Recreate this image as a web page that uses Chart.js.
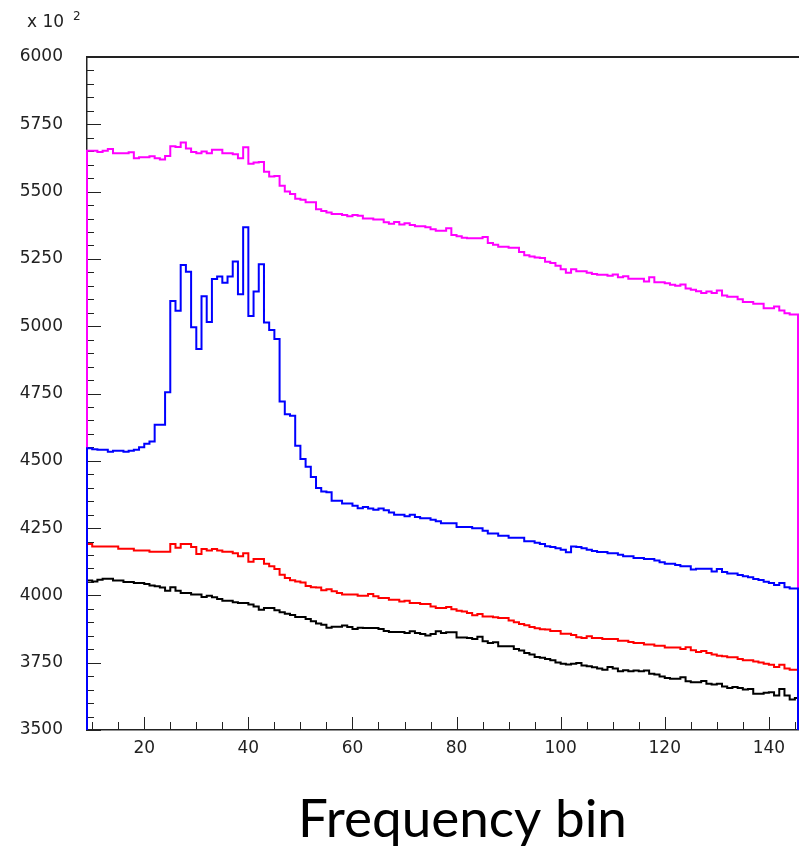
<!DOCTYPE html>
<html>
<head>
<meta charset="utf-8">
<script src="https://cdn.jsdelivr.net/npm/chart.js@4.4.1/dist/chart.umd.min.js"></script>
<style>
  html, body { margin: 0; padding: 0; background: #fff; overflow: hidden; }
  canvas { display: block; }
</style>
</head>
<body>
<canvas id="c" width="799" height="849"></canvas>
<script>
// ---------- data (one value per frequency bin, bins start at X_START, width 1) ----------
const X_START = 9;
const X_MIN = 9;
const X_MAX = 145.6;
const Y_MIN = 3500;
const Y_MAX = 6000;
const X_TICKS = [20, 40, 60, 80, 100, 120, 140];
const Y_TICKS = [3500, 3750, 4000, 4250, 4500, 4750, 5000, 5250, 5500, 5750, 6000];
const Y_EXPONENT_LABEL = "x 10";
const Y_EXPONENT_POWER = "2";
const X_TITLE = "Frequency bin";

const magenta = [
  5652,5652,5647,5652,5658,5642,5642,5642,5646,5624,
  5628,5628,5631,5624,5619,5632,5668,5666,5682,5660,
  5647,5642,5649,5642,5655,5655,5642,5642,5639,5624,
  5665,5603,5608,5610,5574,5556,5558,5522,5500,5491,
  5473,5470,5460,5460,5434,5428,5422,5417,5417,5413,
  5408,5413,5410,5400,5400,5396,5396,5386,5381,5387,
  5378,5382,5376,5371,5371,5368,5360,5355,5355,5364,
  5339,5334,5329,5327,5327,5327,5331,5309,5303,5295,
  5295,5291,5291,5276,5264,5259,5255,5253,5239,5235,
  5225,5212,5199,5212,5204,5204,5199,5194,5191,5191,
  5187,5192,5182,5186,5176,5176,5176,5166,5182,5163,
  5163,5160,5154,5150,5155,5140,5135,5130,5123,5129,
  5123,5133,5114,5109,5109,5100,5090,5090,5083,5083,
  5067,5067,5073,5058,5048,5043,5043
];
const blue = [
  4547,4543,4541,4541,4534,4537,4537,4534,4537,4541,
  4550,4563,4572,4634,4634,4755,5094,5057,5227,5202,
  4996,4915,5111,5016,5175,5185,5161,5185,5240,5119,
  5368,5038,5129,5230,5014,4986,4952,4720,4673,4667,
  4556,4507,4478,4440,4399,4386,4383,4352,4352,4341,
  4341,4333,4324,4328,4323,4318,4323,4316,4308,4300,
  4300,4294,4300,4291,4287,4287,4281,4275,4268,4268,
  4268,4254,4254,4254,4249,4249,4240,4230,4230,4222,
  4222,4214,4214,4214,4201,4201,4196,4191,4183,4180,
  4175,4170,4160,4182,4180,4175,4170,4165,4161,4161,
  4157,4157,4151,4145,4145,4139,4139,4135,4135,4130,
  4123,4118,4118,4113,4108,4108,4096,4099,4099,4099,
  4089,4098,4087,4081,4081,4076,4071,4067,4061,4057,
  4051,4046,4039,4046,4030,4026,4026
];
const red = [
  4191,4182,4182,4182,4182,4182,4173,4173,4173,4167,
  4167,4167,4162,4162,4162,4162,4191,4177,4191,4191,
  4180,4154,4172,4167,4172,4167,4162,4162,4157,4145,
  4157,4125,4135,4135,4118,4108,4098,4077,4065,4056,
  4052,4048,4035,4030,4029,4019,4023,4015,4009,4003,
  4003,4003,3999,3999,4005,3997,3990,3990,3984,3984,
  3977,3980,3972,3972,3968,3968,3959,3953,3953,3957,
  3949,3943,3940,3935,3926,3931,3922,3922,3919,3916,
  3916,3907,3900,3894,3889,3883,3878,3874,3873,3868,
  3868,3858,3858,3853,3845,3842,3848,3842,3842,3838,
  3838,3838,3832,3832,3827,3823,3823,3818,3818,3813,
  3813,3806,3806,3806,3801,3807,3796,3790,3793,3786,
  3780,3776,3774,3770,3770,3764,3759,3759,3754,3751,
  3746,3742,3734,3742,3728,3724,3724
];
const black = [
  4055,4052,4058,4062,4062,4055,4055,4050,4050,4046,
  4046,4042,4037,4034,4029,4017,4030,4017,4009,4009,
  4003,4003,3994,3999,3993,3987,3980,3980,3975,3972,
  3972,3966,3959,3947,3953,3953,3945,3937,3932,3927,
  3920,3920,3912,3904,3896,3891,3880,3884,3884,3888,
  3883,3875,3880,3879,3879,3879,3875,3868,3864,3864,
  3864,3860,3867,3860,3857,3851,3857,3867,3860,3863,
  3863,3844,3844,3842,3838,3846,3830,3823,3826,3811,
  3811,3811,3801,3795,3786,3780,3771,3768,3764,3759,
  3751,3746,3743,3746,3749,3740,3737,3733,3728,3724,
  3734,3728,3718,3722,3718,3721,3718,3721,3709,3706,
  3699,3693,3690,3690,3696,3681,3677,3677,3682,3672,
  3669,3672,3662,3656,3660,3656,3650,3652,3635,3635,
  3638,3640,3628,3652,3628,3613,3619
];

// ---------- build histogram outlines (bin low edges, step drawn at next edge) ----------
function histPoints(vals) {
  const pts = [{ x: X_START, y: Y_MIN }];
  vals.forEach((v, i) => pts.push({ x: X_START + i, y: v }));
  pts.push({ x: X_MAX, y: vals[vals.length - 1] });
  pts.push({ x: X_MAX, y: Y_MIN });
  return pts;
}
function ds(vals, color) {
  return {
    data: histPoints(vals),
    borderColor: color,
    backgroundColor: color,
    borderWidth: 2,
    stepped: 'before',
    fill: false,
    pointRadius: 0,
    borderJoinStyle: 'miter',
    borderCapStyle: 'butt',
    clip: { left: 3, right: 3, top: 0, bottom: 0 }
  };
}

const AXIS_COLOR = '#222';
const LABEL_FONT = 'DejaVu Sans';

const framePlugin = {
  id: 'frameTicks',
  beforeDatasetsDraw(chart) {
    const { ctx, chartArea: a, scales } = chart;
    ctx.save();
    ctx.strokeStyle = AXIS_COLOR;
    ctx.lineWidth = 2;
    ctx.beginPath();
    ctx.moveTo(a.left, a.top);
    ctx.lineTo(a.right + 2, a.top);
    ctx.stroke();
    ctx.lineWidth = 1;
    const ys = scales.y;
    for (let v = Y_MIN; v <= Y_MAX; v += 50) {
      const py = Math.round(ys.getPixelForValue(v)) + 0.5;
      const len = (v % 250 === 0) ? 14 : 7;
      ctx.beginPath(); ctx.moveTo(a.left, py); ctx.lineTo(a.left + len, py); ctx.stroke();
    }
    const xs = scales.x;
    for (let v = 10; v <= X_MAX; v += 5) {
      const px = Math.round(xs.getPixelForValue(v)) + 0.5;
      const len = (v % 20 === 0) ? 13 : 8;
      ctx.beginPath(); ctx.moveTo(px, a.bottom); ctx.lineTo(px, a.bottom - len); ctx.stroke();
    }
    ctx.restore();
  },
  afterDraw(chart) {
    const { ctx } = chart;
    ctx.save();
    ctx.fillStyle = AXIS_COLOR;
    ctx.textBaseline = 'alphabetic';
    ctx.textAlign = 'left';
    ctx.font = '17px "' + LABEL_FONT + '"';
    ctx.fillText(Y_EXPONENT_LABEL, 27, 27);
    ctx.font = '12px "' + LABEL_FONT + '"';
    ctx.fillText(Y_EXPONENT_POWER, 73, 20);
    ctx.fillStyle = '#000';
    ctx.font = '100px Lato';
    const w = ctx.measureText(X_TITLE).width;
    const size = 100 * 329 / w;
    ctx.font = size.toFixed(1) + 'px Lato';
    ctx.textAlign = 'center';
    ctx.fillText(X_TITLE, 462.5, 837);
    ctx.restore();
  }
};

new Chart(document.getElementById('c'), {
  type: 'line',
  data: {
    datasets: [
      ds(blue, '#0000ff'),
      ds(magenta, '#ff00ff'),
      ds(red, '#ff0000'),
      ds(black, '#000000')
    ]
  },
  options: {
    responsive: false,
    animation: false,
    devicePixelRatio: 1,
    layout: { padding: { top: 57, right: 1, left: 0, bottom: 0 } },
    plugins: { legend: { display: false }, tooltip: { enabled: false } },
    scales: {
      x: {
        type: 'linear',
        min: X_MIN,
        max: X_MAX,
        grid: { display: false, drawTicks: false },
        border: { display: true, color: AXIS_COLOR, width: 1.5 },
        afterBuildTicks: s => { s.ticks = X_TICKS.map(v => ({ value: v })); },
        afterFit: s => { s.height = 119; },
        ticks: {
          padding: 8, color: AXIS_COLOR, maxRotation: 0, autoSkip: false,
          font: { family: LABEL_FONT, size: 17 },
          callback: v => String(v)
        }
      },
      y: {
        type: 'linear',
        min: Y_MIN,
        max: Y_MAX,
        grid: { display: false, drawTicks: false },
        border: { display: true, color: AXIS_COLOR, width: 1.5 },
        afterBuildTicks: s => { s.ticks = Y_TICKS.map(v => ({ value: v })); },
        afterFit: s => { s.width = 87; },
        ticks: {
          padding: 24, color: AXIS_COLOR, autoSkip: false,
          font: { family: LABEL_FONT, size: 17 },
          callback: v => String(v)
        }
      }
    }
  },
  plugins: [framePlugin]
});
</script>
</body>
</html>
